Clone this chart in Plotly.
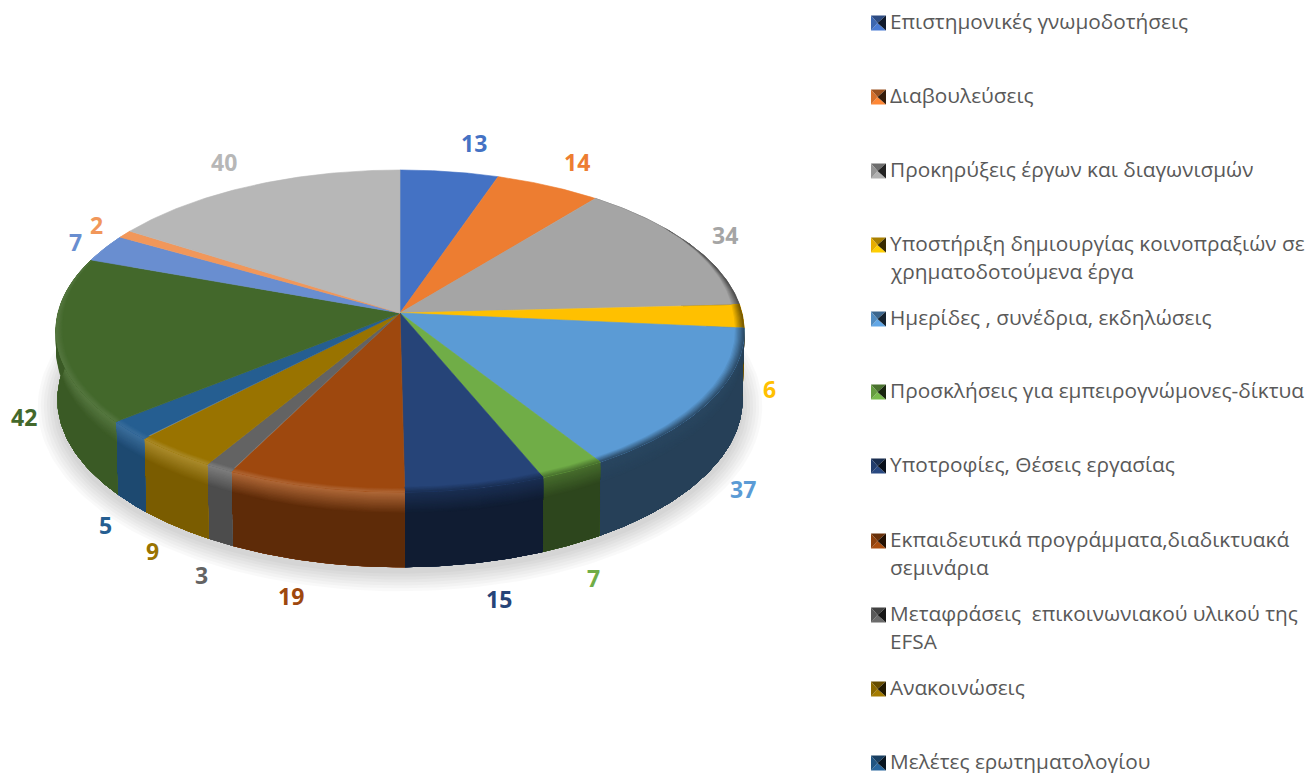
import numpy as np
import plotly.graph_objects as go

# ---- data ----
VALUES = [13, 14, 34, 6, 37, 7, 15, 19, 3, 9, 5, 42, 7, 2, 40]
CATEGORIES = [
    ["Επιστημονικές γνωμοδοτήσεις"],
    ["Διαβουλεύσεις"],
    ["Προκηρύξεις έργων και διαγωνισμών"],
    ["Υποστήριξη δημιουργίας κοινοπραξιών σε", "χρηματοδοτούμενα έργα"],
    ["Ημερίδες , συνέδρια, εκδηλώσεις"],
    ["Προσκλήσεις για εμπειρογνώμονες-δίκτυα"],
    ["Υποτροφίες, Θέσεις εργασίας"],
    ["Εκπαιδευτικά προγράμματα,διαδικτυακά", "σεμινάρια"],
    ["Μεταφράσεις  επικοινωνιακού υλικού της", "EFSA"],
    ["Ανακοινώσεις"],
    ["Μελέτες ερωτηματολογίου"],
]
COLORS = ["#4472C4", "#ED7D31", "#A5A5A5", "#FFC000", "#5B9BD5", "#70AD47", "#264478",
          "#9E480E", "#636363", "#997300", "#255E91", "#43682B", "#698ED0", "#F1975A", "#B7B7B7"]

# ---- layout of the picture ----
LEGEND_Y = [23, 97, 171, 245, 319, 392, 466, 541, 615, 689, 763]
LABEL_X = [474, 577, 725, 769, 743, 593, 499, 291, 201, 152, 105, 24, 75, 96, 224]
LABEL_Y = [143, 162, 235, 389, 489, 578, 599, 596, 575, 551, 525, 417, 242, 225, 162]

CX, CY, RX, KY, P = 400.0, 313.0, 342.0, 159.0, 0.1118
DEPTH, RX2, KY2 = 68.0, 340.0, 165.0


def to_rgb(h):
    return np.array([int(h[i:i + 2], 16) for i in (1, 3, 5)], float)


def css(c):
    c = np.clip(c, 0, 255).round().astype(int)
    return f"rgb({c[0]},{c[1]},{c[2]})"


def top(theta, r=1.0):
    r = np.asarray(r)
    u, v = r * np.sin(theta), -r * np.cos(theta)
    s = 1 / (1 - P * v)
    return CX + RX * u * s, CY + KY * v * s


def bottom(theta):
    u, v = np.sin(theta), -np.cos(theta)
    s = 1 / (1 - P * v)
    return CX + RX2 * u * s, CY + DEPTH + KY2 * v * s


def poly(x, y, color, name=None, hover=False, width=0.6):
    return go.Scatter(x=np.asarray(x), y=np.asarray(y), mode="lines", fill="toself", fillcolor=color,
                      line=dict(color=color if "rgba" not in color else "rgba(0,0,0,0)", width=width),
                      hoverinfo="text" if hover else "skip", text=name, showlegend=False)


fig = go.Figure()
total = sum(VALUES)
edges = np.cumsum([0] + VALUES) / total * 2 * np.pi

# soft shadow under the disc
full = np.linspace(0, 2 * np.pi, 240)
bx, by = bottom(full)
for grow in [20, 17, 14, 11, 8, 5, 2]:
    fig.add_trace(poly(CX + (bx - CX) * (1 + grow / RX2), CY + 70 + (by - CY - 68) * (1 + grow / 190) + 3,
                       "rgba(0,0,0,0.022)", width=0))

WALL_U = [-1.0, -0.75, -0.6, -0.45, -0.3, 0.0, 0.1, 0.5, 1.0]
WALL_F = [0.87, 0.77, 0.80, 0.76, 0.63, 0.50, 0.42, 0.40, 0.42]


def rim_colour(base, u):
    if u < -0.05:
        return base + (255 - base) * (0.10 if u < -0.7 else 0.17)
    return base * np.interp(u, [0, 0.5, 0.85, 1], [0.72, 0.62, 0.45, 0.40])


# side walls
for i, val in enumerate(VALUES):
    a, b = edges[i], edges[i + 1]
    if np.cos((a + b) / 2) > 0.75:   # hidden behind the top face
        continue
    th = np.linspace(a, b, 60)
    base = to_rgb(COLORS[i])
    um = np.sin((a + b) / 2)
    wall = base * np.interp(um, WALL_U, WALL_F)
    rim = rim_colour(base, um)
    tx, ty = top(th)
    lx, ly = bottom(th)
    for t in np.linspace(0, 0.28, 15):
        col = rim + (wall - rim) * (t / 0.28)
        fig.add_trace(poly(np.r_[tx + (lx - tx) * t, lx[::-1]], np.r_[ty + (ly - ty) * t, ly[::-1]], css(col)))

# top faces
for i, val in enumerate(VALUES):
    a, b = edges[i], edges[i + 1]
    th = np.linspace(a, b, 80)
    x, y = top(th)
    fig.add_trace(poly(np.r_[CX, x, CX], np.r_[CY, y, CY], COLORS[i], name=f"{val}", hover=True))

# bevel on the visible rim, fading out towards the back of the disc
LO, HI = np.radians(55), np.radians(300)
for i, val in enumerate(VALUES):
    a, b = max(edges[i], LO), min(edges[i + 1], HI)
    if b <= a:
        continue
    base = to_rgb(COLORS[i])
    um = np.sin((a + b) / 2)
    rim = rim_colour(base, um)
    width = 0.022 if um < -0.05 else 0.03
    th = np.linspace(a, b, 50)
    taper = np.clip((th - LO) / np.radians(35), 0, 1) * np.clip((HI - th) / np.radians(35), 0, 1)
    for f in np.linspace(0.12, 0.95, 8):
        xo, yo = top(th, 1.0)
        xi, yi = top(th, 1 - width * taper * (1 - f))
        fig.add_trace(poly(np.r_[xi, xo[::-1]], np.r_[yi, yo[::-1]], css(base + (rim - base) * f), width=0))

# data labels
for v, c, x, y in zip(VALUES, COLORS, LABEL_X, LABEL_Y):
    fig.add_annotation(x=x, y=y, text=f"<b>{v}</b>", showarrow=False, xanchor="center", yanchor="middle",
                       font=dict(family="Open Sans", size=23, color=c))

# legend
shapes = []
MS = 7.5
for lines, c, y in zip(CATEGORIES, COLORS, LEGEND_Y):
    base = to_rgb(c)
    xc = 878.5
    corners = dict(tl=(xc - MS, y - MS), tr=(xc + MS, y - MS), br=(xc + MS, y + MS), bl=(xc - MS, y + MS))
    mid = (xc - 1.0, y)
    facets = [("tl", "tr", 0.66), ("bl", "br", 1.08), ("tl", "bl", 0.90), ("tr", "br", 0.22)]
    for p, q, f in facets:
        a_, b_ = corners[p], corners[q]
        shapes.append(dict(type="path", xref="x", yref="y", line=dict(width=0), fillcolor=css(base * f),
                           path=f"M{a_[0]},{a_[1]} L{b_[0]},{b_[1]} L{mid[0]},{mid[1]} Z"))
    for n, line in enumerate(lines):
        fig.add_annotation(x=888, y=y - 2 + n * 28, text=line, showarrow=False, xanchor="left", yanchor="middle",
                           align="left", font=dict(family="Open Sans", size=20.8, color="#595959"))

fig.update_layout(
    width=1310, height=773, margin=dict(l=0, r=0, t=0, b=0),
    paper_bgcolor="white", plot_bgcolor="white", showlegend=False, shapes=shapes,
    xaxis=dict(range=[0, 1310], visible=False, fixedrange=True),
    yaxis=dict(range=[773, 0], visible=False, fixedrange=True),
)
fig.write_html("out.html", post_script="document.body.style.margin='0';document.body.style.overflow='hidden';",
               config=dict(displayModeBar=False))
